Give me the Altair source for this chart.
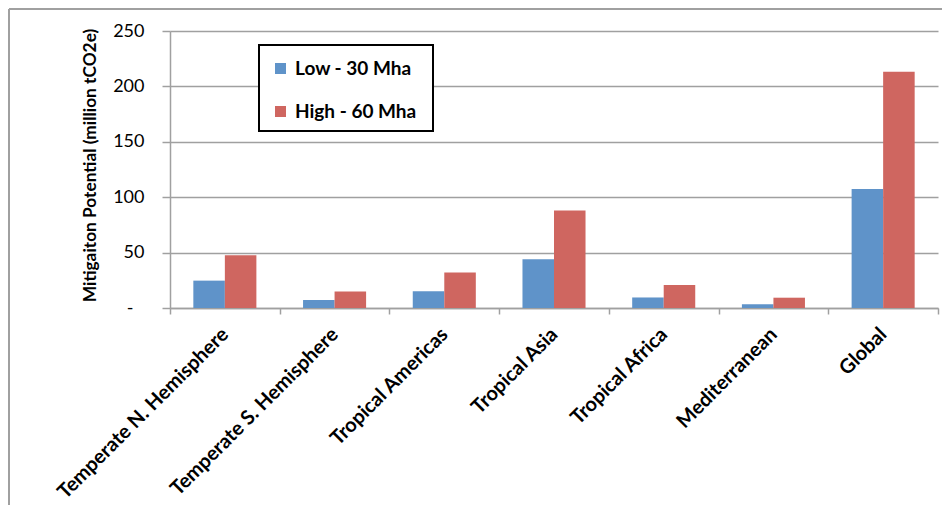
import altair as alt
import pandas as pd

categories = ["Temperate N. Hemisphere", "Temperate S. Hemisphere", "Tropical Americas",
              "Tropical Asia", "Tropical Africa", "Mediterranean", "Global"]
series = ["Low - 30 Mha", "High - 60 Mha"]
low_values = [24.7, 7.2, 15.2, 44.0, 9.5, 3.4, 107.5]
high_values = [47.6, 15.0, 32.0, 88.0, 20.8, 9.3, 213.2]
y_ticks = [0, 50, 100, 150, 200, 250]
y_title = "Mitigaiton Potential (million tCO2e)"
colors = ["#5F93C9", "#CF6660"]

rows = []
for c, lo, hi in zip(categories, low_values, high_values):
    rows.append({"Region": c, "Scenario": series[0], "Value": lo})
    rows.append({"Region": c, "Scenario": series[1], "Value": hi})
df = pd.DataFrame(rows)

GRID = "#A0A0A0"
FONT = "Lato"

bars = alt.Chart(df).mark_bar().encode(
    x=alt.X("Region:N", sort=categories,
            scale=alt.Scale(paddingInner=0, paddingOuter=0),
            axis=alt.Axis(title=None, labelAngle=-45, labelAlign="right", labelBaseline="middle",
                          labelFont=FONT, labelFontWeight="bold", labelFontSize=20, labelColor="black",
                          labelLimit=400, labelOverlap=False,
                          tickBand="extent", domainColor=GRID, domainWidth=1.5, tickColor=GRID,
                          tickWidth=1.5, tickSize=6, labelPadding=17, grid=False)),
    xOffset=alt.XOffset("Scenario:N", sort=series,
                        scale=alt.Scale(paddingOuter=0.74, paddingInner=0)),
    y=alt.Y("Value:Q", scale=alt.Scale(domain=[0, 250], nice=False),
            axis=alt.Axis(values=y_ticks, title=y_title,
                          labelExpr="datum.value == 0 ? '-' : datum.label",
                          labelFont=FONT, labelFontSize=18, labelColor="black",
                          labelPadding=alt.condition("datum.value == 0", alt.value(29), alt.value(18)),
                          tickSize=8, tickColor=GRID, tickWidth=1.5,
                          domainColor=GRID, domainWidth=1.5,
                          gridColor=GRID, gridWidth=1.5,
                          titleFont=FONT, titleFontWeight="bold", titleFontSize=17.3, titleColor="black",
                          titleAngle=270, titleX=-80, titleY=134, titleAlign="center",
                          titleBaseline="middle", titleLimit=400)),
    color=alt.Color("Scenario:N", sort=series,
                    scale=alt.Scale(domain=series, range=colors),
                    legend=alt.Legend(title=None, orient="none", legendX=101, legendY=28,
                                      padding=0, symbolType="square", symbolSize=121,
                                      symbolStrokeWidth=0, symbolOpacity=1,
                                      labelFont=FONT, labelFontWeight="bold", labelFontSize=19,
                                      labelColor="black", labelOffset=5, rowPadding=23,
                                      labelLimit=300)),
)

one = pd.DataFrame({"a": [0]})
legend_box = alt.Chart(one).mark_rect(fill="white", stroke="black", strokeWidth=2).encode(
    x=alt.value(89), x2=alt.value(263), y=alt.value(14), y2=alt.value(100))

frame_left = alt.Chart(one).mark_rule(color=GRID, strokeWidth=2).encode(
    x=alt.value(-161), y=alt.value(-22), y2=alt.value(600))
frame_top = alt.Chart(one).mark_rule(color=GRID, strokeWidth=2).encode(
    x=alt.value(-161), x2=alt.value(800), y=alt.value(-22))

chart = alt.layer(bars, legend_box, frame_left, frame_top).properties(
    width=768, height=277,
    autosize=alt.AutoSizeParams(type="none"),
    padding={"left": 162, "top": 23, "right": 4, "bottom": 197},
    background="white",
).configure_view(stroke=None)

chart.save("out.html", embed_options={"renderer": "svg", "actions": False})
